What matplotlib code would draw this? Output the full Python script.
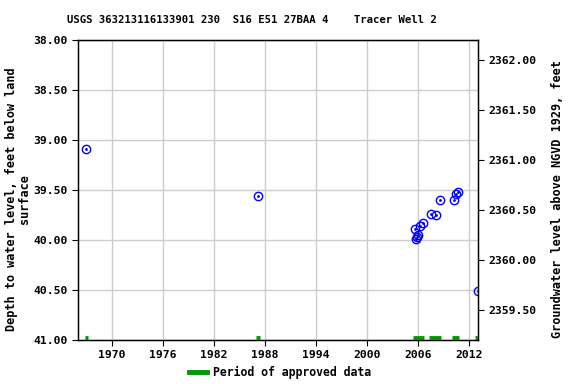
import matplotlib
matplotlib.use("Agg")
import matplotlib.pyplot as plt
import numpy as np

# measurement dates (decimal years) and depth to water, feet below land surface
years = [1966.94, 1987.2, 2005.65, 2005.76, 2005.9, 2006.0, 2006.3, 2006.6,
         2007.6, 2008.15, 2008.6, 2010.3, 2010.55, 2010.75, 2013.06]
depths = [39.09, 39.56, 39.886, 39.99, 39.97, 39.95, 39.86, 39.83,
          39.735, 39.75, 39.60, 39.60, 39.54, 39.52, 40.51]

# periods of approved data (start, end)
approved = [(1966.8, 1967.2), (1987.0, 1987.4), (2005.4, 2006.8),
            (2007.3, 2008.8), (2010.0, 2010.9), (2012.8, 2013.1)]

datum_offset = 2400.2  # land surface elevation, ft NGVD 1929

plt.rcParams["font.family"] = ["DejaVu Sans Mono"]
plt.rcParams["font.weight"] = "bold"

fig = plt.figure(figsize=(5.76, 3.84), dpi=100)
ax = fig.add_axes([78 / 576, 1 - 340 / 384, 400 / 576, 300 / 384])

ax.plot(years, depths, linestyle="none", marker="o", markersize=6,
        markerfacecolor="none", markeredgecolor="blue", markeredgewidth=1.0,
        zorder=3)
ax.plot(years, depths, linestyle="none", marker="o", markersize=1,
        color="blue", zorder=3)

for start, end in approved:
    ax.plot([start, end], [40.98, 40.98], color="#009900", linewidth=3.5,
            solid_capstyle="butt", zorder=3)

ax.set_xlim(1966.0, 2013.1)
ax.set_ylim(41.0, 38.0)
ax.set_xticks([1970, 1976, 1982, 1988, 1994, 2000, 2006, 2012])
ax.set_yticks(np.arange(38.0, 41.01, 0.5))
ax.yaxis.set_major_formatter(matplotlib.ticker.FormatStrFormatter("%.2f"))
ax.grid(True, color="#cccccc", linewidth=1)
ax.set_axisbelow(True)
ax.tick_params(labelsize=8.2, direction="out", length=4)
for s in ax.spines.values():
    s.set_linewidth(1)

ax.set_ylabel("Depth to water level, feet below land\nsurface", fontsize=8.6,
              fontweight="bold", linespacing=1.0)
ax.yaxis.set_label_coords(-0.117, 0.47)

ax2 = ax.twinx()
ax2.set_ylim(datum_offset - 41.0, datum_offset - 38.0)
ax2.set_yticks(np.arange(2359.5, 2362.01, 0.5))
ax2.yaxis.set_major_formatter(matplotlib.ticker.FormatStrFormatter("%.2f"))
ax2.tick_params(labelsize=8.2, direction="out", length=4)
ax2.set_ylabel("Groundwater level above NGVD 1929, feet", fontsize=8.6,
               fontweight="bold")
ax2.yaxis.set_label_coords(1.183, 0.47)

fig.text(252 / 576, 1 - 20 / 384,
         "USGS 363213116133901 230  S16 E51 27BAA 4    Tracer Well 2",
         ha="center", va="center", fontsize=7.7, fontweight="bold")

# legend
fig.add_artist(plt.Line2D([189 / 576, 207 / 576], [1 - 372 / 384] * 2,
                          color="#009900", linewidth=3.5))
fig.text(213 / 576, 1 - 372 / 384, "Period of approved data",
         ha="left", va="center", fontsize=8.3, fontweight="bold")

fig.savefig("out.png", dpi=100)
